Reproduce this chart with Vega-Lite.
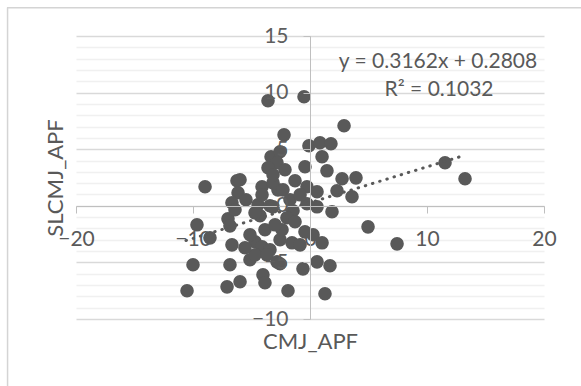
{
  "$schema": "https://vega.github.io/schema/vega-lite/v6.json",
  "width": 468,
  "height": 283,
  "autosize": {"type": "none"},
  "padding": {"left": 76, "top": 36, "right": 37, "bottom": 67},
  "background": "white",
  "config": {"view": {"stroke": null}, "font": "Lato"},
  "resolve": {"axis": {"y": "independent"}},
  "datasets": {
    "points": [
      {"x": -3.59, "y": 9.28}, {"x": -0.51, "y": 9.63}, {"x": 2.91, "y": 7.07}, {"x": -2.22, "y": 6.27},
      {"x": -0.09, "y": 5.30}, {"x": 0.85, "y": 5.57}, {"x": 1.79, "y": 5.48}, {"x": 1.03, "y": 4.33},
      {"x": -3.33, "y": 4.33}, {"x": -2.56, "y": 4.77}, {"x": -2.82, "y": 3.80}, {"x": -3.59, "y": 3.36},
      {"x": -0.43, "y": 3.45}, {"x": 1.45, "y": 3.09}, {"x": 2.74, "y": 2.39}, {"x": 3.93, "y": 2.47},
      {"x": 2.31, "y": 1.33}, {"x": 3.59, "y": 0.80}, {"x": 11.54, "y": 3.80}, {"x": 13.25, "y": 2.39},
      {"x": -8.97, "y": 1.68}, {"x": -6.24, "y": 2.21}, {"x": -6.15, "y": 1.15}, {"x": -4.10, "y": 1.68},
      {"x": -2.74, "y": 1.41}, {"x": -1.28, "y": 2.21}, {"x": -0.26, "y": 1.68}, {"x": 0.60, "y": 1.24},
      {"x": -6.67, "y": 0.27}, {"x": -4.44, "y": 0.09}, {"x": -3.42, "y": 0.00}, {"x": -1.45, "y": -0.44},
      {"x": -0.26, "y": 0.18}, {"x": 0.60, "y": -0.09}, {"x": 1.88, "y": -0.53}, {"x": 4.96, "y": -1.86},
      {"x": 7.44, "y": -3.36}, {"x": -7.01, "y": -1.15}, {"x": -6.84, "y": -1.77}, {"x": -4.27, "y": -0.88},
      {"x": -1.97, "y": -1.06}, {"x": -4.70, "y": -0.62}, {"x": -9.66, "y": -1.68}, {"x": -8.55, "y": -2.83},
      {"x": -6.67, "y": -3.45}, {"x": -4.70, "y": -3.18}, {"x": -4.10, "y": -3.62}, {"x": -3.42, "y": -3.89},
      {"x": -2.56, "y": -3.00}, {"x": -2.39, "y": -2.12}, {"x": -1.54, "y": -3.27}, {"x": 0.26, "y": -2.56},
      {"x": 1.03, "y": -3.27}, {"x": -0.43, "y": -2.30}, {"x": -5.13, "y": -4.77}, {"x": -4.70, "y": -4.33},
      {"x": -3.68, "y": -4.33}, {"x": -2.82, "y": -4.95}, {"x": -2.56, "y": -5.12}, {"x": -4.02, "y": -6.10},
      {"x": -3.85, "y": -6.80}, {"x": -5.98, "y": -6.71}, {"x": -7.09, "y": -7.16}, {"x": -10.00, "y": -5.21},
      {"x": -6.84, "y": -5.21}, {"x": -10.51, "y": -7.51}, {"x": -1.88, "y": -7.51}, {"x": -0.60, "y": -5.57},
      {"x": 0.60, "y": -4.95}, {"x": 1.71, "y": -5.30}, {"x": 1.28, "y": -7.77}, {"x": -3.16, "y": 2.03},
      {"x": -2.31, "y": 1.41}, {"x": -5.98, "y": 2.30}, {"x": -3.16, "y": -0.09}, {"x": -5.47, "y": 0.53},
      {"x": -1.71, "y": 0.53}, {"x": -0.85, "y": 0.97}, {"x": -3.85, "y": -2.12}, {"x": -5.13, "y": -2.56},
      {"x": -5.56, "y": -3.71}, {"x": -2.99, "y": -1.68}, {"x": -4.10, "y": 0.97}, {"x": -2.14, "y": 3.18},
      {"x": -1.28, "y": -1.41}, {"x": -0.85, "y": -3.45}, {"x": -6.41, "y": -0.35}, {"x": -3.16, "y": 2.74}
    ],
    "trend": [
      {"x": -10.6, "y": -3.07},
      {"x": 13.25, "y": 4.47}
    ]
  },
  "layer": [
    {
      "data": {"name": "points"},
      "mark": {"type": "circle", "size": 185, "opacity": 1, "color": "#595959"},
      "encoding": {
        "x": {
          "field": "x", "type": "quantitative",
          "scale": {"domain": [-20, 20], "nice": false, "zero": false},
          "axis": {
            "title": "CMJ_APF",
            "values": [-20, -10, 0, 10, 20],
            "tickCount": 10,
            "format": "d",
            "offset": -113,
            "grid": false,
            "domainColor": "#bfbfbf",
            "tickColor": "#bfbfbf",
            "tickSize": 7,
            "labelPadding": 15,
            "labelFontSize": 21,
            "labelFont": "Lato",
            "labelColor": "#595959",
            "labelOverlap": false,
            "labelFlush": false,
            "titleFont": "Lato",
            "titleFontSize": 22,
            "titleFontWeight": "normal",
            "titleColor": "#595959",
            "titleX": 234,
            "titleY": 135,
            "titleBaseline": "middle",
            "zindex": 1
          }
        },
        "y": {
          "field": "y", "type": "quantitative",
          "scale": {"domain": [-10, 15], "nice": false, "zero": false},
          "axis": {
            "orient": "left",
            "title": null,
            "values": [-10, -9, -8, -7, -6, -5, -4, -3, -2, -1, 0, 1, 2, 3, 4, 5, 6, 7, 8, 9, 10, 11, 12, 13, 14, 15],
            "tickCount": 40,
            "grid": true,
            "gridColor": {"condition": {"test": "datum.value % 5 === 0", "value": "#d9d9d9"}, "value": "#f0f0f0"},
            "gridWidth": {"condition": {"test": "datum.value % 5 === 0", "value": 1.5}, "value": 1.3},
            "domain": false,
            "ticks": false,
            "labels": false,
            "zindex": 0
          }
        }
      }
    },
    {
      "data": {"name": "trend"},
      "mark": {"type": "line", "color": "#595959", "strokeWidth": 3, "strokeDash": [0.5, 7], "strokeCap": "round"},
      "encoding": {
        "x": {"field": "x", "type": "quantitative"},
        "y": {
          "field": "y", "type": "quantitative",
          "axis": {
            "orient": "left",
            "title": "SLCMJ_APF",
            "values": [-10, -5, 0, 5, 10, 15],
            "tickCount": 10,
            "format": "d",
            "offset": -234,
            "grid": false,
            "domainColor": "#bfbfbf",
            "tickColor": "#bfbfbf",
            "tickSize": 7,
            "labelPadding": 15,
            "labelFontSize": 21,
            "labelFont": "Lato",
            "labelColor": "#5e5e5e",
            "labelOverlap": false,
            "labelFlush": false,
            "titleFont": "Lato",
            "titleFontSize": 22,
            "titleFontWeight": "normal",
            "titleColor": "#595959",
            "titleX": -255,
            "titleY": 141.5,
            "titleBaseline": "middle",
            "zindex": 1
          }
        }
      }
    },
    {
      "data": {"values": [{"label": "y = 0.3162x + 0.2808", "x": 10.94, "y": 12.72}, {"label": "R² = 0.1032", "x": 11.03, "y": 10.25}]},
      "mark": {"type": "text", "font": "Lato", "fontSize": 21, "color": "#595959", "align": "center", "baseline": "middle"},
      "encoding": {
        "x": {"field": "x", "type": "quantitative"},
        "y": {"field": "y", "type": "quantitative", "axis": null},
        "text": {"field": "label"}
      }
    },
    {
      "data": {"values": [{"edge": "top"}]},
      "mark": {"type": "rule", "color": "#d4d4d4", "strokeWidth": 1.5, "clip": false},
      "encoding": {
        "x": {"datum": -25.9},
        "x2": {"datum": 23.2},
        "y": {"datum": 17.5, "axis": null}
      }
    },
    {
      "data": {"values": [{"edge": "left"}]},
      "mark": {"type": "rule", "color": "#d4d4d4", "strokeWidth": 1.5, "clip": false},
      "encoding": {
        "x": {"datum": -25.85},
        "y": {"datum": 17.5, "axis": null},
        "y2": {"datum": -16}
      }
    }
  ]
}
